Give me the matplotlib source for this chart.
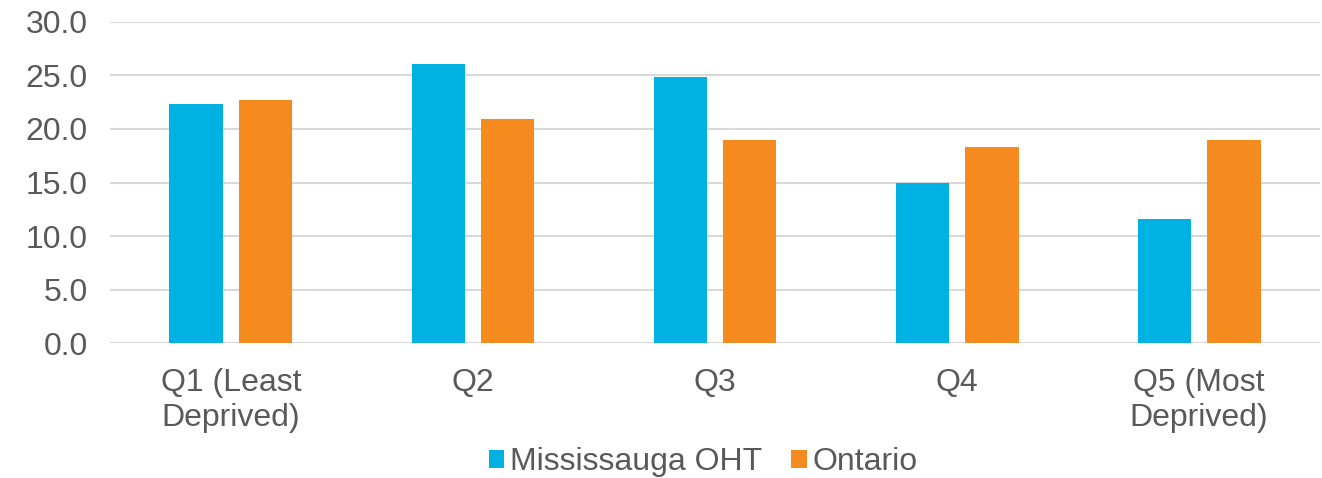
import matplotlib.pyplot as plt
import numpy as np

categories = ["Q1 (Least\nDeprived)", "Q2", "Q3", "Q4", "Q5 (Most\nDeprived)"]
mississauga = [22.3, 26.1, 24.9, 15.0, 11.6]
ontario = [22.7, 20.9, 19.0, 18.3, 19.0]

blue = "#00B2E3"
orange = "#F58B1F"
text_color = "#595959"

plt.rcParams["font.family"] = ["Liberation Sans", "DejaVu Sans"]

fig = plt.figure(figsize=(13.22, 4.78), dpi=100)
ax = fig.add_axes([0.0832, 0.2824, 0.9153, 0.6716])

x = np.arange(len(categories))
width = 0.223
offset = 0.1426
ax.bar(x - offset, mississauga, width=width, color=blue, label="Mississauga OHT", zorder=3)
ax.bar(x + offset, ontario, width=width, color=orange, label="Ontario", zorder=3)

ax.set_xlim(-0.5, len(categories) - 0.5)
ax.set_ylim(0, 30)
ax.set_yticks(np.arange(0, 31, 5))
ax.set_yticklabels([f"{v:.1f}" for v in np.arange(0, 31, 5)])
ax.set_xticks(x)
ax.set_xticklabels(categories, linespacing=1.2)

ax.grid(axis="y", color="#D9D9D9", linewidth=1.5, zorder=0)
for s in ax.spines.values():
    s.set_visible(False)
ax.tick_params(axis="both", length=0, labelsize=23, labelcolor=text_color)
ax.tick_params(axis="y", pad=16)
ax.tick_params(axis="x", pad=18)

fig.legend(loc="center", bbox_to_anchor=(0.532, 1 - 462 / 478), ncol=2, frameon=False,
           fontsize=23, labelcolor=text_color, handlelength=0.48, handleheight=0.48,
           handletextpad=0.2, columnspacing=0.9, borderaxespad=0)

fig.savefig("out.png", dpi=100)
